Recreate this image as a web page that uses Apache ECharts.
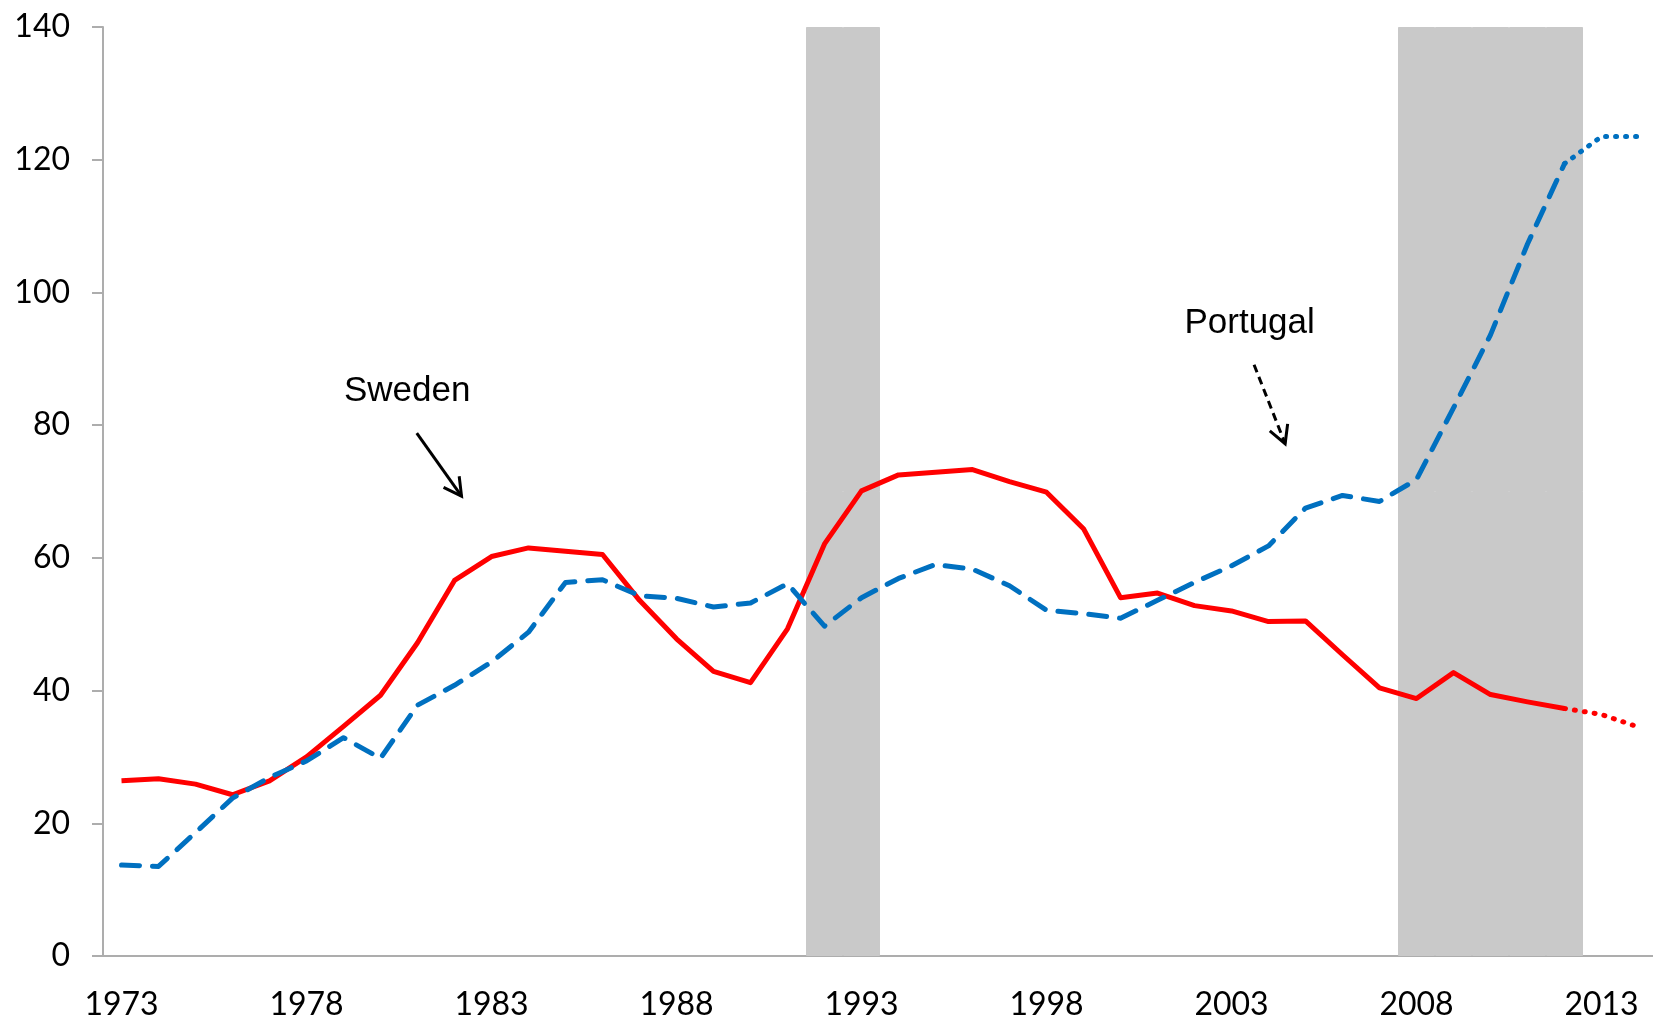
<!DOCTYPE html>
<html lang="en">

<head>
    <meta charset="UTF-8">
    <title>Sweden and Portugal</title>
    <script src="https://cdn.jsdelivr.net/npm/echarts@6.0.0/dist/echarts.min.js"></script>
</head>

<body style="margin: 0; background: #fff">
    <div id="main"></div>
</body>

</html>

<script type="text/javascript">
    const years = ['1973', '1974', '1975', '1976', '1977', '1978', '1979', '1980', '1981', '1982',
        '1983', '1984', '1985', '1986', '1987', '1988', '1989', '1990', '1991', '1992',
        '1993', '1994', '1995', '1996', '1997', '1998', '1999', '2000', '2001', '2002',
        '2003', '2004', '2005', '2006', '2007', '2008', '2009', '2010', '2011', '2012',
        '2013', '2014']

    const sweden = [26.4, 26.7, 25.9, 24.3, 26.4, 30.0, 34.6, 39.3, 47.2, 56.6,
        60.2, 61.5, 61.0, 60.5, 53.6, 47.8, 42.9, 41.2, 49.3, 62.1,
        70.1, 72.5, 72.9, 73.3, 71.5, 69.9, 64.4, 54.0, 54.7, 52.8,
        52.0, 50.4, 50.5, 45.4, 40.4, 38.8, 42.7, 39.4, 38.3, 37.3,
        36.4, 34.5]

    const portugal = [13.7, 13.5, 18.6, 23.8, 26.9, 29.4, 32.9, 29.8, 37.8, 40.8,
        44.3, 48.8, 56.3, 56.7, 54.3, 53.9, 52.6, 53.2, 56.1, 49.7,
        54.0, 56.9, 59.0, 58.3, 55.8, 52.1, 51.6, 50.9, 53.6, 56.3,
        58.8, 61.8, 67.5, 69.4, 68.5, 71.8, 82.6, 93.6, 107.3, 119.4,
        123.5, 123.5]

    // last actual year, after that the lines are projections (dotted)
    const lastActual = '2012'

    // shaded periods
    const crisisYears = ['1992', '1993', '2008', '2009', '2010', '2011', '2012']

    const yTicks = [0, 20, 40, 60, 80, 100, 120, 140]

    // annotations: [category index, value]
    const notes = [
        { text: 'Sweden', at: [7.72, 85.1], from: [7.98, 78.8], to: [9.19, 69.3], dashed: false },
        { text: 'Portugal', at: [30.49, 95.4], from: [30.61, 89.1], to: [31.45, 77.2], dashed: true }
    ]

    const cut = years.indexOf(lastActual)
    const actual = arr => arr.map((v, i) => i <= cut ? v : null)
    const projected = arr => arr.map((v, i) => i >= cut ? v : null)

    const chartDom = document.getElementById('main')
    chartDom.style.width = '1653px'
    chartDom.style.height = '1017px'
    const myChart = echarts.init(chartDom)

    const axisColor = '#ADADAD'
    const shade = '#C9C9C9'

    const option = {
        animation: false,
        grid: { left: 103, top: 27, width: 1554, height: 929, outerBoundsMode: 'none' },
        xAxis: {
            type: 'category',
            data: years,
            boundaryGap: true,
            axisLine: { lineStyle: { color: axisColor, width: 2 } },
            axisTick: { interval: 0, length: 12, lineStyle: { color: axisColor, width: 2 } },
            axisLabel: {
                interval: 4, margin: 33,
                fontFamily: 'Lato', fontSize: 32, color: '#000'
            },
            splitLine: { show: false }
        },
        yAxis: {
            type: 'value',
            min: yTicks[0],
            max: yTicks[yTicks.length - 1],
            interval: yTicks[1] - yTicks[0],
            axisLine: { show: true, lineStyle: { color: axisColor, width: 2 } },
            axisTick: { show: true, length: 11, lineStyle: { color: axisColor, width: 2 } },
            axisLabel: { margin: 33, fontFamily: 'Lato', fontSize: 32, color: '#000' },
            splitLine: { show: false }
        },
        series: [
            {
                name: 'shade',
                type: 'bar',
                silent: true,
                barCategoryGap: '0%',
                itemStyle: { color: shade, borderColor: shade, borderWidth: 1 },
                data: years.map(y => crisisYears.includes(y) ? yTicks[yTicks.length - 1] : null)
            },
            {
                name: 'Sweden',
                type: 'line',
                symbol: 'none',
                lineStyle: { color: '#FF0000', width: 5, join: 'round' },
                data: actual(sweden)
            },
            {
                name: 'Sweden projection',
                type: 'line',
                symbol: 'none',
                lineStyle: { color: '#FF0000', width: 5, type: [1, 9], cap: 'round' },
                data: projected(sweden)
            },
            {
                name: 'Portugal',
                type: 'line',
                symbol: 'none',
                lineStyle: { color: '#0070C0', width: 5, type: [18, 13], cap: 'round', join: 'round' },
                data: actual(portugal)
            },
            {
                name: 'Portugal projection',
                type: 'line',
                symbol: 'none',
                lineStyle: { color: '#0070C0', width: 5, type: [1, 9], cap: 'round' },
                data: projected(portugal)
            }
        ]
    }

    myChart.setOption(option)

    // place the text labels and arrows from data positions
    const p0 = myChart.convertToPixel({ gridIndex: 0 }, [0, 0])
    const p1 = myChart.convertToPixel({ gridIndex: 0 }, [1, 0])
    const step = p1[0] - p0[0]
    function toPx (pt) {
        const y = myChart.convertToPixel({ yAxisIndex: 0 }, pt[1])
        return [p0[0] + pt[0] * step, y]
    }

    const graphics = []
    notes.forEach(n => {
        const c = toPx(n.at)
        const a = toPx(n.from)
        const b = toPx(n.to)
        graphics.push({
            type: 'text',
            x: c[0], y: c[1],
            style: {
                text: n.text, fill: '#000',
                font: '35px "Liberation Sans", Arial, sans-serif',
                align: 'center', verticalAlign: 'middle'
            }
        })
        const style = { stroke: '#000', lineWidth: 3, fill: null }
        if (n.dashed) style.lineDash = [8, 5]
        graphics.push({
            type: 'line',
            shape: { x1: a[0], y1: a[1], x2: b[0], y2: b[1] },
            style: style
        })
        const ang = Math.atan2(b[1] - a[1], b[0] - a[0])
        const len = 20
        const spread = 0.5
        graphics.push({
            type: 'polyline',
            shape: {
                points: [
                    [b[0] - len * Math.cos(ang - spread), b[1] - len * Math.sin(ang - spread)],
                    b,
                    [b[0] - len * Math.cos(ang + spread), b[1] - len * Math.sin(ang + spread)]
                ]
            },
            style: { stroke: '#000', lineWidth: 3, fill: null }
        })
    })

    myChart.setOption({ graphic: graphics })
</script>
